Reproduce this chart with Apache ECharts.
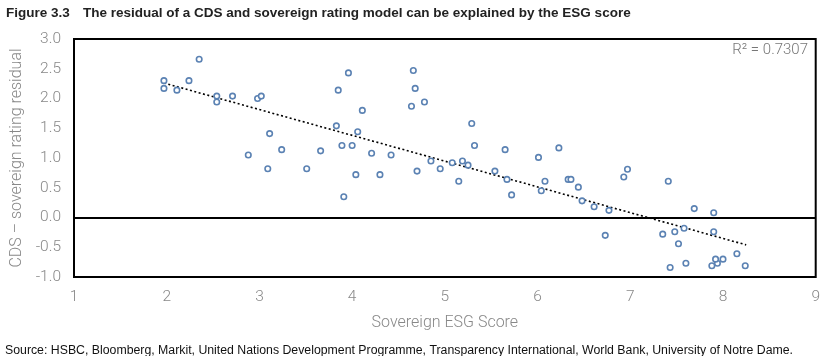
<!DOCTYPE html>
<html><head><meta charset="utf-8">
<script src="https://cdn.jsdelivr.net/npm/echarts@6/dist/echarts.min.js"></script>
<style>html,body{margin:0;padding:0;background:#fff;}#c{width:823px;height:356px;}</style>
</head><body><div id="c"></div>
<script>
var esgScore = [2.35,1.97,1.97,2.11,2.24,2.54,2.54,2.71,2.98,3.02,3.11,3.24,2.88,3.09,3.51,3.66,3.96,3.85,4.11,4.66,4.68,4.64,4.78,3.83,4.06,3.89,4.00,4.21,4.42,4.04,4.30,3.91,4.85,4.70,4.95,5.08,5.19,5.25,5.15,5.29,5.32,5.65,5.54,5.67,5.72,6.01,6.23,6.08,6.04,6.33,6.36,6.44,6.48,6.61,6.77,6.93,6.97,7.41,7.58,7.69,7.90,7.35,7.48,7.90,7.52,7.43,7.60,7.88,7.94,7.92,8.00,8.15,8.24,6.73];
var residual = [2.66,2.30,2.17,2.14,2.30,2.04,1.94,2.04,2.00,2.04,1.41,1.14,1.05,0.82,0.82,1.12,2.43,2.14,1.80,2.47,2.17,1.87,1.94,1.54,1.44,1.21,1.21,1.08,1.05,0.72,0.72,0.35,0.95,0.78,0.82,0.92,0.95,0.88,0.61,1.58,1.21,1.14,0.78,0.64,0.38,1.01,1.17,0.61,0.45,0.64,0.64,0.51,0.28,0.18,0.12,0.68,0.81,0.61,-0.18,0.15,0.08,-0.28,-0.24,-0.24,-0.44,-0.84,-0.77,-0.81,-0.77,-0.70,-0.70,-0.61,-0.81,-0.30];
var trendX = [1.97, 8.25];
var trendY = [2.26, -0.46];
var xTicks = [1,2,3,4,5,6,7,8,9];
var yTicks = ['-1.0','-0.5','0.0','0.5','1.0','1.5','2.0','2.5','3.0'];
var figureLabel = 'Figure 3.3';
var titleText = 'The residual of a CDS and sovereign rating model can be explained by the ESG score';
var sourceText = 'Source: HSBC, Bloomberg, Markit, United Nations Development Programme, Transparency International, World Bank, University of Notre Dame.';
var r2Text = 'R² = 0.7307';

var pts = esgScore.map(function(x,i){return [x, residual[i]];});
var trend = trendX.map(function(x,i){return [x, trendY[i]];});
var lightFont = 'Roboto';
var chart = echarts.init(document.getElementById('c'), null, {renderer:'canvas'});
chart.setOption({
  animation:false,
  title:[{
    text: figureLabel, left: 1, top: 1,
    textStyle:{fontFamily:'Liberation Sans', fontWeight:'bold', fontSize:13.5, color:'#222'}
  },{
    text: titleText, left: 78, top: 1,
    textStyle:{fontFamily:'Liberation Sans', fontWeight:'bold', fontSize:13.5, color:'#222'}
  },{
    text: sourceText, left: 0, top: 340,
    textStyle:{fontFamily:'Liberation Sans', fontWeight:'normal', fontSize:12.3, color:'#111'}
  }],
  graphic:[{
    type:'text', right: 15, top: 43,
    style:{text: r2Text, font:'300 15px '+lightFont, fill:'#777'}
  }],
  grid:{left:74, right:5, top:39, bottom:79, show:true, borderColor:'#000', borderWidth:2, backgroundColor:'transparent'},
  xAxis:{
    type:'value', min: xTicks[0], max: xTicks[xTicks.length-1], interval:1,
    name:'Sovereign ESG Score', nameLocation:'middle', nameGap:38,
    nameTextStyle:{fontFamily:lightFont, fontWeight:300, fontSize:16, color:'#888'},
    axisLine:{show:false}, axisTick:{show:false}, splitLine:{show:false},
    axisLabel:{margin:12, fontFamily:lightFont, fontWeight:300, fontSize:15.5, color:'#888',
      formatter:function(v){return String(v);}}
  },
  yAxis:{
    type:'value', min:-1, max:3, interval:0.5,
    name:'CDS – sovereign rating residual', nameLocation:'middle', nameGap:49,
    nameTextStyle:{fontFamily:lightFont, fontWeight:300, fontSize:16, color:'#888'},
    axisLine:{show:false}, axisTick:{show:false}, splitLine:{show:false},
    axisLabel:{margin:13, fontFamily:lightFont, fontWeight:300, fontSize:15.5, color:'#888',
      formatter:function(v){var i=Math.round((v+1)/0.5);return yTicks[i];}}
  },
  series:[{
    type:'line', data: trend, symbol:'none', silent:true,
    lineStyle:{type:[2,2.5], color:'#000', width:1.6},
    markLine:{silent:true, symbol:'none', label:{show:false},
      lineStyle:{type:'solid', color:'#000', width:2},
      data:[{yAxis:0}]},
    z:3
  },{
    type:'scatter', data: pts, symbol:'circle', symbolSize:5.5,
    itemStyle:{color:'#fff', borderColor:'#5b82b3', borderWidth:1.6, opacity:1},
    z:4
  }]
});
</script>
</body></html>
